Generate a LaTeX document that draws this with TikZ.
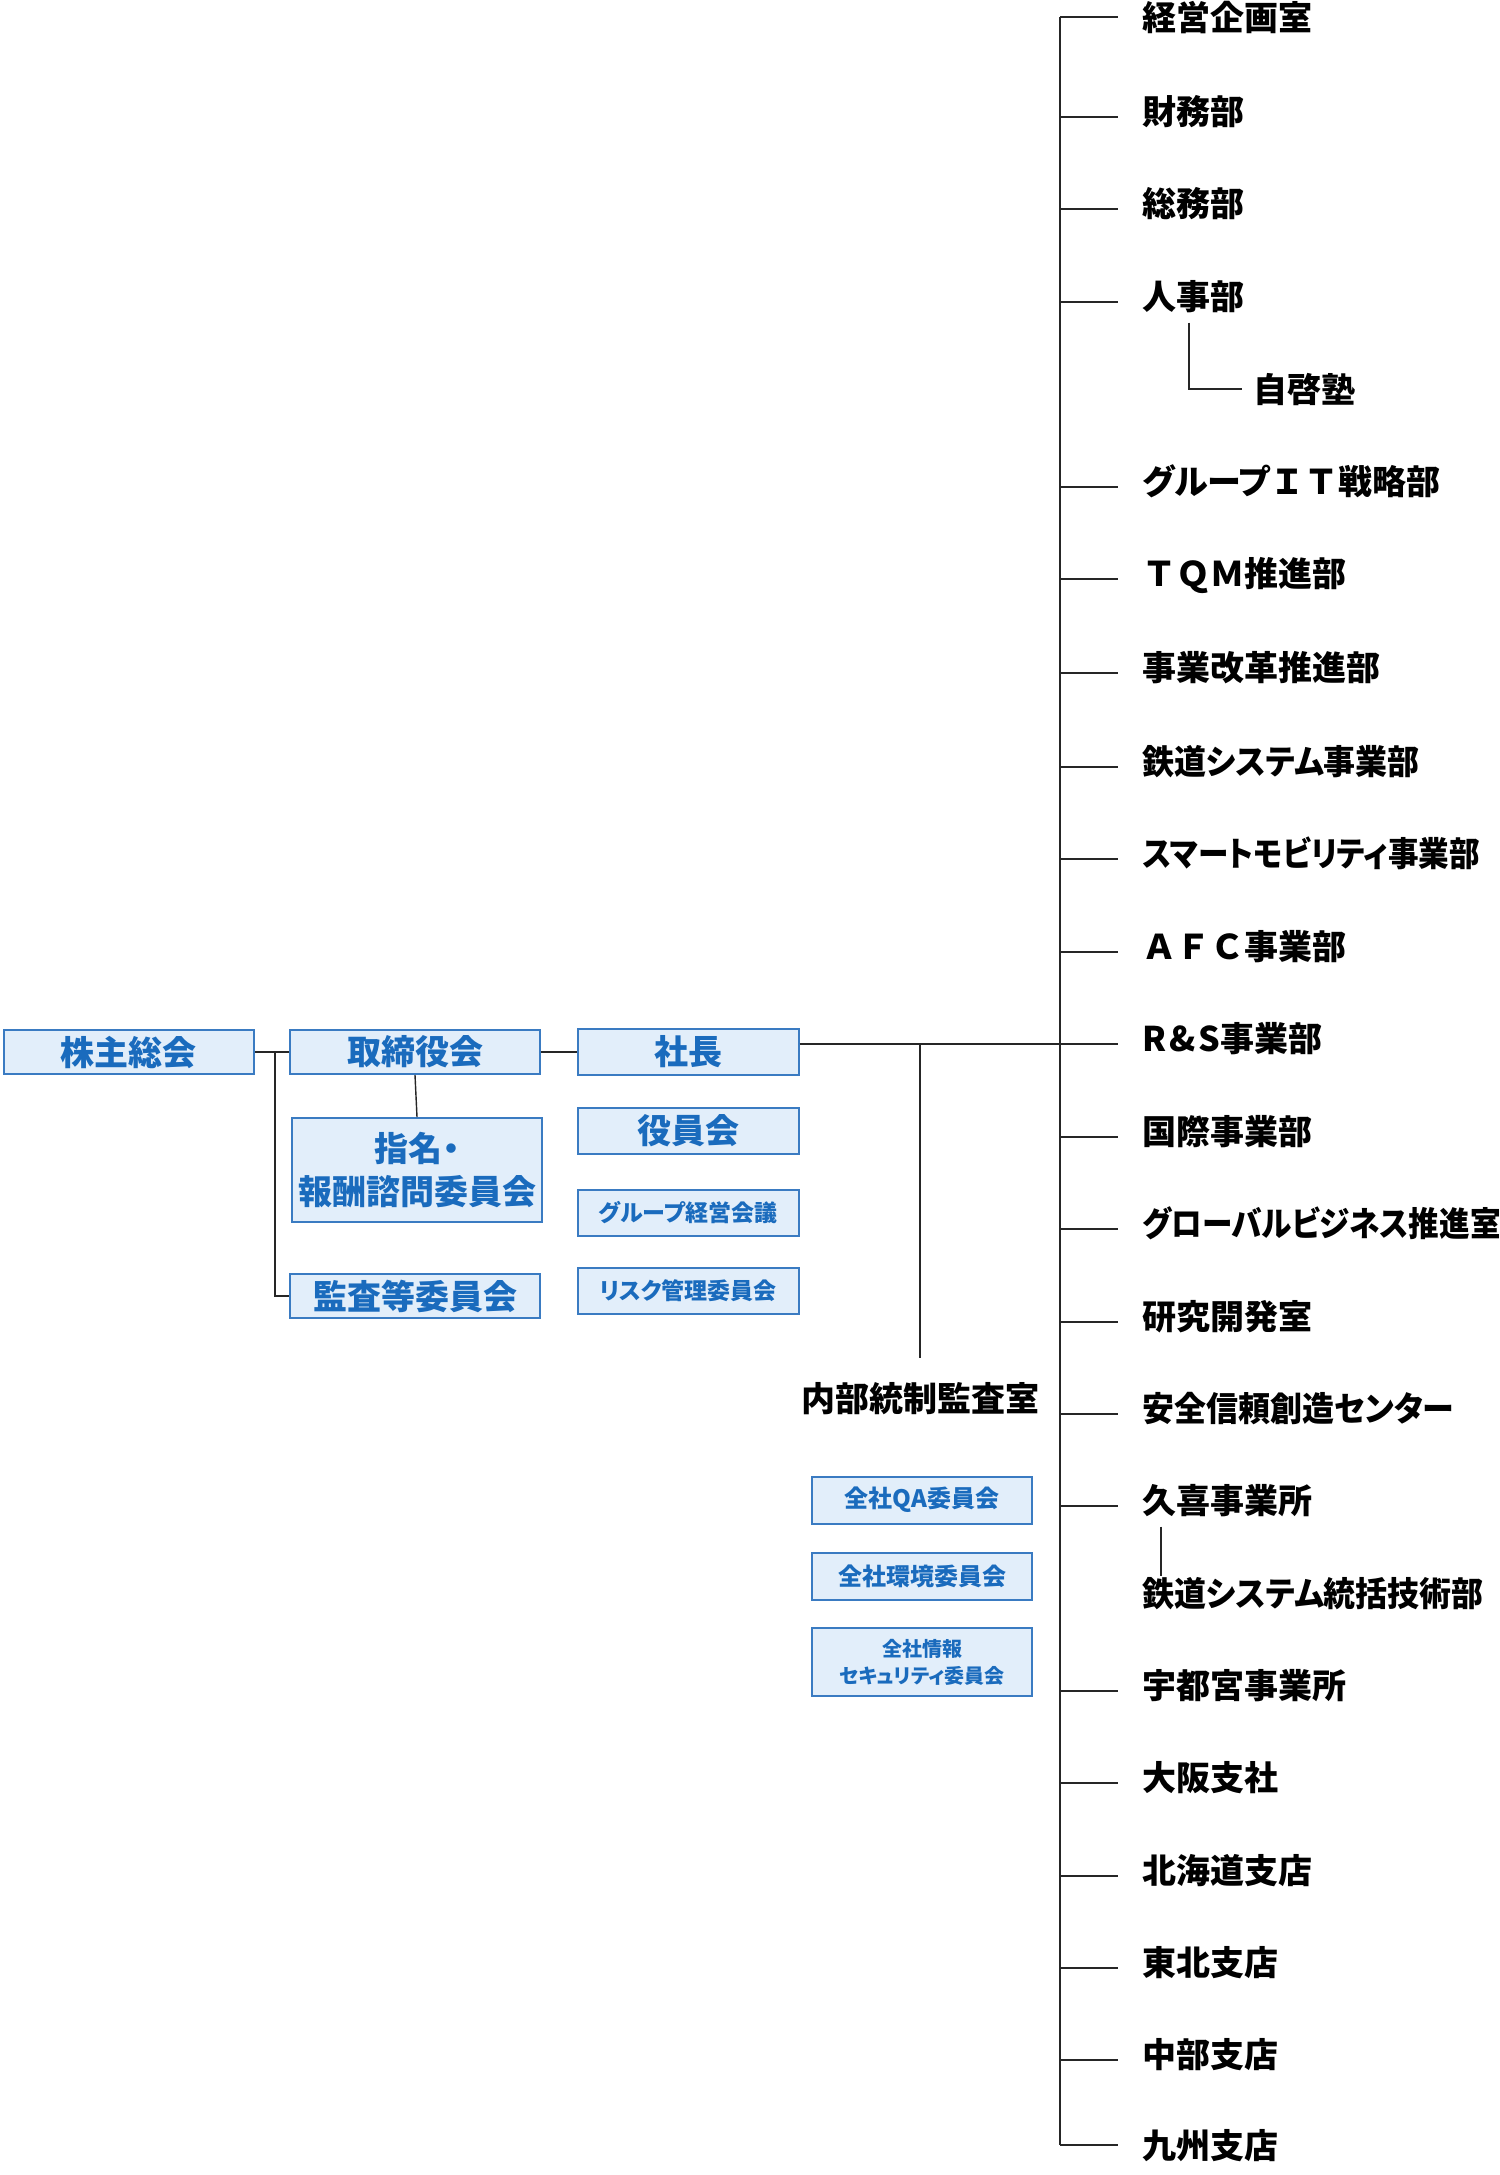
\documentclass[tikz,border=0pt]{standalone}
\usepackage{fontspec}
\newfontfamily\jpfont{Noto Sans CJK JP}[RawFeature=+palt]
\newfontfamily\jpwide{Noto Sans CJK JP}
\newfontfamily\jpslim{Noto Sans CJK JP}[RawFeature=+palt, FakeStretch=0.94]
\newfontfamily\jpnarrow{Noto Sans CJK JP}[RawFeature=+palt, FakeStretch=0.9]
\definecolor{boxfill}{HTML}{E2EEFA}
\definecolor{boxline}{HTML}{3A7BC2}
\definecolor{boxtext}{HTML}{1A6BBD}
\definecolor{orgline}{HTML}{262626}
\begin{document}
\begin{tikzpicture}[x=0.5pt,y=-0.5pt,
  org/.style={draw=orgline, line width=0.7pt},
  dept/.style={anchor=west, inner xsep=12pt, inner ysep=2pt,
    text height=12pt, text depth=4.1pt,
    font=\jpfont\bfseries\fontsize{17pt}{20pt}\selectfont},
  noraise/.style={text height=13pt, text depth=0pt},
  board/.style={draw=boxline, line width=1pt, fill=boxfill, text=boxtext,
    inner sep=0pt, minimum width=125pt, minimum height=22pt, align=center,
    font=\jpfont\bfseries\fontsize{17pt}{21.5pt}\selectfont},
  execbox/.style={board, minimum width=110.5pt, minimum height=23pt},
  smallbox/.style={execbox, font=\jpfont\bfseries\fontsize{11.5pt}{14pt}\selectfont},
  qcbox/.style={board, minimum width=110pt, minimum height=23.5pt,
    font=\jpfont\bfseries\fontsize{12pt}{14pt}\selectfont}]
\useasboundingbox (0,0) rectangle (1500,2175);
\coordinate (trunk) at (1060,0);
% governance boxes
\node [board] (kabunushi) at (129,1052) {株主総会};
\node [board] (torishimari) at (415,1052) {取締役会};
\node [board, minimum height=52pt] (shimei) at (417,1170) {指名・\\報酬諮問委員会};
\node [board] (kansa) at (415,1296) {監査等委員会};
\node [execbox] (shacho) at (688,1052) {社長};
\node [execbox] (yakuin) at (688,1131) {役員会};
\node [smallbox] (grpkaigi) at (688,1213) {グループ経営会議};
\node [smallbox] (risk) at (688,1291) {リスク管理委員会};
\node [dept, anchor=center] (naibu) at (920,1404) {内部統制監査室};
\node [qcbox] (qa) at (922,1500) {全社QA委員会};
\node [qcbox] (kankyo) at (922,1576) {全社環境委員会};
\node [qcbox, minimum height=34pt, font=\jpfont\bfseries\fontsize{10pt}{13.5pt}\selectfont] (joho) at (922,1662) {全社情報\\セキュリティ委員会};
% departments
\node [dept, noraise] (keiei) at (1118,17) {経営企画室};
\node [dept] (zaimu) at (1118,117) {財務部};
\node [dept] (somu) at (1118,209) {総務部};
\node [dept] (jinji) at (1118,302) {人事部};
\node [dept, noraise, inner xsep=5.5pt] (jikei) at (1242,389) {自啓塾};
\node [dept] (grpit) at (1118,487) {グループ{\jpwide ＩＴ}戦略部};
\node [dept] (tqm) at (1118,579) {\jpwide ＴＱＭ推進部};
\node [dept] (kaikaku) at (1118,673) {事業改革推進部};
\node [dept] (tetsudo) at (1118,767) {\jpslim 鉄道システム事業部};
\node [dept] (smart) at (1118,859) {\jpnarrow スマートモビリティ事業部};
\node [dept] (afc) at (1118,952) {\jpwide ＡＦＣ事業部};
\node [dept] (rs) at (1118,1044) {R\kern1.5pt\&\kern1.5pt S事業部};
\node [dept] (kokusai) at (1118,1137) {国際事業部};
\node [dept] (global) at (1118,1229) {\jpnarrow グローバルビジネス推進室};
\node [dept] (kenkyu) at (1118,1322) {研究開発室};
\node [dept] (anzen) at (1118,1414) {\jpslim 安全信頼創造センター};
\node [dept] (kuki) at (1118,1506) {久喜事業所};
\node [dept, noraise] (tokatsu) at (1118,1593) {\jpslim 鉄道システム統括技術部};
\node [dept] (utsunomiya) at (1118,1691) {宇都宮事業所};
\node [dept] (osaka) at (1118,1783) {大阪支社};
\node [dept] (hokkaido) at (1118,1876) {北海道支店};
\node [dept] (tohoku) at (1118,1968) {東北支店};
\node [dept] (chubu) at (1118,2060) {中部支店};
\node [dept, noraise] (kyushu) at (1118,2145) {九州支店};
% connectors
\draw [org] (kabunushi.east) -- (torishimari.west);
\draw [org] ([xshift=10pt]kabunushi.east) |- (kansa.west);
\draw [org] (torishimari.south) -- (shimei.north);
\draw [org] (torishimari.east) -- (shacho.west);
\draw [org] (shacho.east |- rs.west) -- (rs.west);
\draw [org] (naibu.north |- rs.west) -- ([yshift=13pt]naibu.north);
\draw [org] (keiei.west -| trunk) -- (kyushu.west -| trunk);
\draw [org] (keiei.west -| trunk) -- (keiei.west);
\draw [org] (zaimu.west -| trunk) -- (zaimu.west);
\draw [org] (somu.west -| trunk) -- (somu.west);
\draw [org] (jinji.west -| trunk) -- (jinji.west);
\draw [org] ([xshift=35.5pt]jinji.south west) |- (jikei.west);
\draw [org] (grpit.west -| trunk) -- (grpit.west);
\draw [org] (tqm.west -| trunk) -- (tqm.west);
\draw [org] (kaikaku.west -| trunk) -- (kaikaku.west);
\draw [org] (tetsudo.west -| trunk) -- (tetsudo.west);
\draw [org] (smart.west -| trunk) -- (smart.west);
\draw [org] (afc.west -| trunk) -- (afc.west);
\draw [org] (kokusai.west -| trunk) -- (kokusai.west);
\draw [org] (global.west -| trunk) -- (global.west);
\draw [org] (kenkyu.west -| trunk) -- (kenkyu.west);
\draw [org] (anzen.west -| trunk) -- (anzen.west);
\draw [org] (kuki.west -| trunk) -- (kuki.west);
\draw [org] ([xshift=21.5pt]kuki.south west) -- ([xshift=21.5pt]tokatsu.north west);
\draw [org] (utsunomiya.west -| trunk) -- (utsunomiya.west);
\draw [org] (osaka.west -| trunk) -- (osaka.west);
\draw [org] (hokkaido.west -| trunk) -- (hokkaido.west);
\draw [org] (tohoku.west -| trunk) -- (tohoku.west);
\draw [org] (chubu.west -| trunk) -- (chubu.west);
\draw [org] (kyushu.west -| trunk) -- (kyushu.west);
\end{tikzpicture}
\end{document}
